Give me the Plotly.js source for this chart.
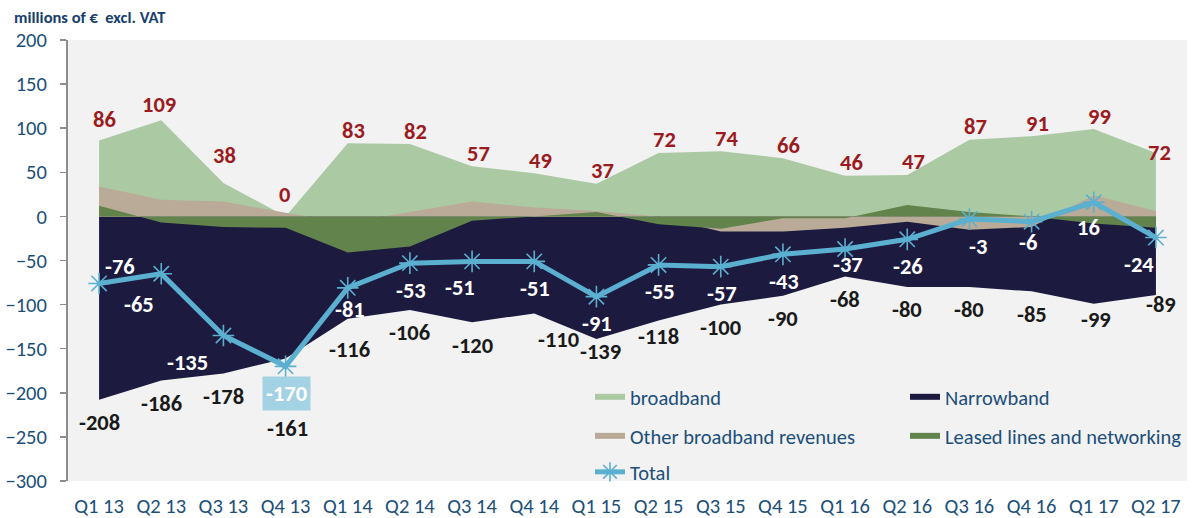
<!DOCTYPE html>
<html>
<head>
<meta charset="utf-8">
<script src="https://cdn.plot.ly/plotly-3.0.1.min.js"></script>
<style>
  html, body { margin: 0; padding: 0; background: #ffffff; }
  #chart { width: 1196px; height: 518px; }
</style>
</head>
<body>
<div id="chart"></div>
<script>
// ---- data ----
const quarters = ['Q1 13','Q2 13','Q3 13','Q4 13','Q1 14','Q2 14','Q3 14','Q4 14','Q1 15',
                  'Q2 15','Q3 15','Q4 15','Q1 16','Q2 16','Q3 16','Q4 16','Q1 17','Q2 17'];
const broadband      = [86, 109, 38, 0, 83, 82, 57, 49, 37, 72, 74, 66, 46, 47, 87, 91, 99, 72];
const narrowband     = [-208, -186, -178, -161, -116, -106, -120, -110, -139, -118, -100, -90, -68, -80, -80, -85, -99, -89];
const otherBroadband = [34, 19, 17, 4, -7, 5, 17, 10, 6, 0, -17, -17, -13, -6, -15, -12, 24, 6];
const leasedLines    = [12, -7, -12, -13, -41, -34, -5, 0, 5, -9, -14, -2, -2, 13, 5, 0, -8, -13];
const total          = [-76, -65, -135, -170, -81, -53, -51, -51, -91, -55, -57, -43, -37, -26, -3, -6, 16, -24];

// ---- styling ----
const FONT = 'Carlito, Lato, "Open Sans", sans-serif';
const BLUE_TXT = '#1b4f7a';
const LABEL_SIZE = 22.5;

// label placement (pixel nudges, as in the original hand-placed data labels)
const bbLabelDefault = { dx: 6, dy: 13 };
const bbLabelNudge = { 'Q1 13': { dx: 5, dy: 21 }, 'Q2 13': { dx: -2, dy: 16 }, 'Q3 13': { dx: 1, dy: 27 },
                       'Q4 13': { dx: -1, dy: 22 }, 'Q2 17': { dx: 4, dy: 0 } };
const nbLabelDefault = { dx: 0, dy: 23 };
const nbLabelNudge = { 'Q4 13': { dx: 2, dy: 70 }, 'Q1 14': { dx: 2, dy: 31 }, 'Q4 14': { dx: 24, dy: 26 },
                       'Q1 15': { dx: 4, dy: 12 }, 'Q2 15': { dx: 0, dy: 16 }, 'Q1 17': { dx: 2, dy: 16 },
                       'Q2 17': { dx: 5, dy: 10 } };
const totLabelDefault = { dx: 1, dy: 27 };
const totLabelNudge = { 'Q1 13': { dx: 21, dy: -17 }, 'Q2 13': { dx: -22, dy: 31 }, 'Q3 13': { dx: -36, dy: 27 },
                        'Q1 14': { dx: 2, dy: 22 }, 'Q3 14': { dx: -12, dy: 26 }, 'Q1 16': { dx: 3, dy: 15 },
                        'Q3 16': { dx: 9, dy: 27 }, 'Q4 16': { dx: -4, dy: 21 }, 'Q1 17': { dx: -5, dy: 25 },
                        'Q2 17': { dx: -17, dy: 27 } };

const traces = [
  { type: 'scatter', x: quarters, y: broadband, name: 'broadband', mode: 'none',
    fill: 'tozeroy', fillcolor: '#abcaa4', legend: 'legend' },
  { type: 'scatter', x: quarters, y: narrowband, name: 'Narrowband', mode: 'none',
    fill: 'tozeroy', fillcolor: '#1c1a3f', legend: 'legend2' },
  { type: 'scatter', x: quarters, y: otherBroadband, name: 'Other broadband revenues', mode: 'none',
    fill: 'tozeroy', fillcolor: '#b9ab97', legend: 'legend3' },
  { type: 'scatter', x: quarters, y: leasedLines, name: 'Leased lines and networking', mode: 'none',
    fill: 'tozeroy', fillcolor: '#63834c', legend: 'legend4' },
  { type: 'scatter', x: quarters, y: total, name: 'Total', mode: 'lines+markers',
    line: { color: '#5bb0d0', width: 5 },
    marker: { symbol: 'asterisk-open', size: 18, color: '#5bb0d0', line: { color: '#5bb0d0', width: 1.6 } },
    legend: 'legend5' }
];

const annotations = [];
const minTotal = Math.min(...total);
quarters.forEach((q, i) => {
  const b = bbLabelNudge[q] || bbLabelDefault;
  annotations.push({ x: q, y: broadband[i], text: String(broadband[i]), showarrow: false,
    xshift: b.dx, yshift: b.dy, font: { family: FONT, size: LABEL_SIZE, color: '#9b1b1f', weight: 'bold' } });
  const n = nbLabelNudge[q] || nbLabelDefault;
  annotations.push({ x: q, y: narrowband[i], text: String(narrowband[i]), showarrow: false,
    xshift: n.dx, yshift: -n.dy, font: { family: FONT, size: LABEL_SIZE, color: '#1a1a1a', weight: 'bold' } });
  const t = totLabelNudge[q] || totLabelDefault;
  const isMin = total[i] === minTotal;
  annotations.push({ x: q, y: total[i], text: String(total[i]), showarrow: false,
    xshift: t.dx, yshift: -t.dy, font: { family: FONT, size: LABEL_SIZE, color: '#ffffff', weight: 'bold' },
    bgcolor: isMin ? '#a3d2e4' : 'rgba(0,0,0,0)', borderpad: isMin ? 3 : 0 });
});
annotations.push({ xref: 'paper', yref: 'paper', x: -0.05, y: 1.052, xanchor: 'left', yanchor: 'middle',
  text: 'millions of €  excl. VAT', showarrow: false,
  font: { family: FONT, size: 16.5, color: '#17406d', weight: 'bold' } });

function legendAt(x, y, anchor) {
  return {
    orientation: 'h', x: x, y: y, xanchor: anchor || 'left', yanchor: 'middle',
    bgcolor: 'rgba(0,0,0,0)',
    font: { family: FONT, size: 20.5, color: BLUE_TXT }
  };
}

const layout = {
  width: 1196, height: 518,
  margin: { l: 68, r: 9, t: 40, b: 37 },
  paper_bgcolor: '#ffffff',
  plot_bgcolor: '#f2f2f2',
  showlegend: true,
  legend:  legendAt(0.4665, 0.1905),
  legend2: legendAt(0.748, 0.1905),
  legend3: legendAt(0.4665, 0.102),
  legend4: legendAt(1.0, 0.102, 'right'),
  legend5: legendAt(0.4665, 0.0204),
  xaxis: {
    type: 'category', categoryorder: 'array', categoryarray: quarters,
    range: [-0.5, 17.5], showgrid: false, zeroline: false, showline: false, ticks: '',
    ticklabelstandoff: 10,
    tickfont: { family: FONT, size: 20.5, color: BLUE_TXT }
  },
  yaxis: {
    range: [-300, 200], dtick: 50, tick0: 0, showgrid: false, zeroline: false,
    showline: true, linecolor: '#8c8c8c', linewidth: 2,
    ticks: 'outside', ticklen: 6, tickwidth: 1.5, tickcolor: '#8c8c8c',
    ticklabelstandoff: 9,
    tickfont: { family: FONT, size: 20.5, color: BLUE_TXT }
  },
  annotations: annotations,
  hovermode: false
};

Plotly.newPlot('chart', traces, layout, { staticPlot: true, displayModeBar: false });
</script>
</body>
</html>
